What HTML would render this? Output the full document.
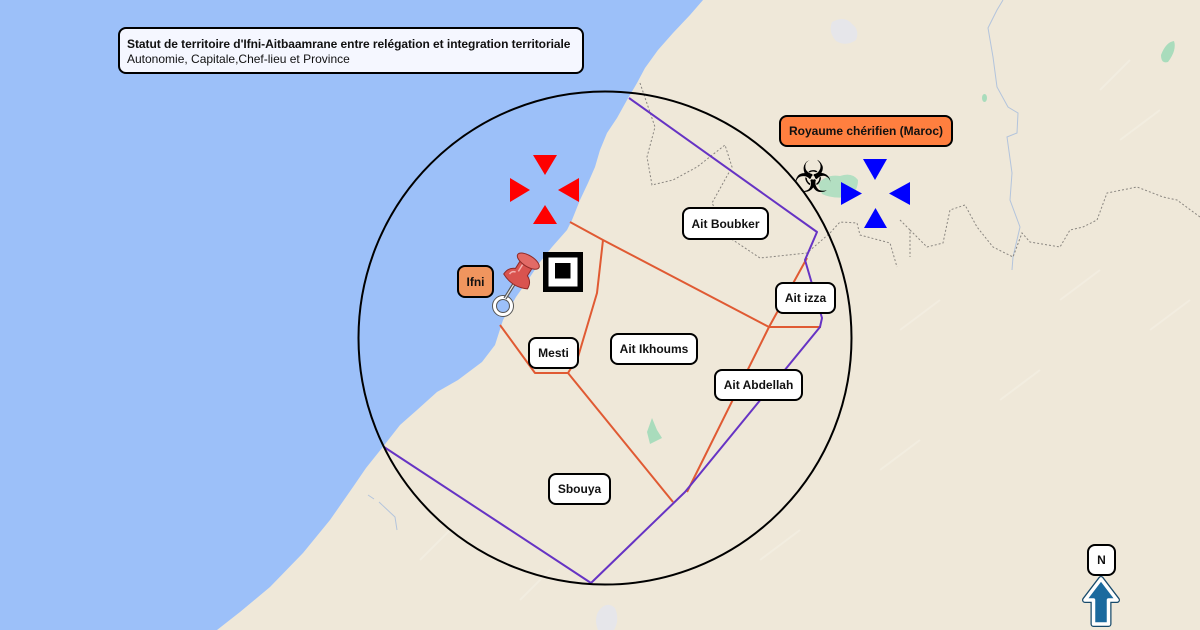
<!DOCTYPE html>
<html><head><meta charset="utf-8">
<style>
html,body{margin:0;padding:0;}
body{width:1200px;height:630px;overflow:hidden;position:relative;background:#efe8d9;font-family:"Liberation Sans",Arial,sans-serif;}
svg{position:absolute;left:0;top:0;}
.lb{position:absolute;box-sizing:border-box;border:2px solid #000;border-radius:8px;background:#fff;display:flex;align-items:center;justify-content:center;font-weight:bold;font-size:12px;color:#111;white-space:nowrap;}
</style></head><body>
<svg width="1200" height="630" viewBox="0 0 1200 630">
  <rect width="1200" height="630" fill="#efe8d9"/>
  <!-- terrain streaks -->
  <g stroke="#f4efe3" stroke-width="2" fill="none" opacity="0.7">
    <path d="M1100,90 L1130,60 M1120,140 L1160,110 M1060,300 L1100,270 M900,330 L940,300 M1000,400 L1040,370 M760,560 L800,530 M880,470 L920,440 M420,560 L450,530 M520,600 L550,570 M1150,330 L1190,300"/>
  </g>
  <!-- water -->
  <path d="M0,0 L703,0 L690,15 L673,33 L658,50 L645,68 L637,83 L627,100 L617,118 L607,133 L600,150 L595,167 L588,183 L580,200 L572,220 L567,230 L552,247 L540,262 L528,280 L516,297 L503,320 L495,345 L482,362 L458,380 L437,392 L417,410 L400,425 L382,448 L366,468 L353,487 L330,520 L303,553 L270,587 L240,612 L217,630 L0,630 Z" fill="#9cc0f9"/>
  <!-- light blobs -->
  <path d="M832,22 Q845,15 852,24 Q860,30 856,40 Q846,47 836,41 Q828,32 832,22Z" fill="#e6e6ea"/>
  <path d="M598,612 Q606,600 615,608 Q620,620 614,630 L598,630 Q594,620 598,612Z" fill="#e6e6ea"/>
  <!-- green patches -->
  <path d="M818,184 Q826,174 840,176 Q852,172 858,180 Q858,192 848,197 Q832,199 822,194 Z" fill="#b3dfc2"/>
  <path d="M647,432 L652,418 L657,430 L662,438 L650,444 Z" fill="#a9dcbc"/>
  <ellipse cx="984.5" cy="98" rx="2.5" ry="4" fill="#a9dcbc"/>
  <path d="M1161,55 Q1166,42 1174,41 Q1177,50 1168,62 Q1161,64 1161,55Z" fill="#a9dcbc"/>
  <!-- river -->
  <path d="M1003,0 L997,10 L988,28 L993,57 L997,87 L1008,107 L1018,113 L1017,133 L1007,137 L1012,173 L1010,200 L1020,227 L1013,257 L1012,270" fill="none" stroke="#b3c4dc" stroke-width="1"/>
  <path d="M368,495 L374,499 M379,502 L395,517 L397,530" fill="none" stroke="#b3c4dc" stroke-width="1"/>
  <!-- dotted borders -->
  <g fill="none" stroke="#8a8680" stroke-width="1" stroke-dasharray="2,2">
    <path d="M640,83 L655,127 L647,157 L652,185 L673,180 L697,167 L725,145 L732,167 L712,203 L730,238 L760,258 L807,253 L830,233 L840,222 L857,223 L860,235 L890,243 L897,267"/>
    <path d="M900,220 L910,230 L910,257 M910,230 L927,247 L943,243 L950,210 L965,205 L977,227 L993,247 L1013,257 L1022,233 L1030,242 L1060,247 L1070,230 L1083,227 L1097,220 L1107,193 L1137,187 L1163,197 L1177,200 L1200,217"/>
  </g>
  <!-- red boundaries -->
  <g fill="none" stroke="#e05a33" stroke-width="2" stroke-linejoin="round">
    <path d="M570,222 L603,240 L769,327 L821,327"/>
    <path d="M603,240 L597,293 L578,357 L568,373 L535,373 L500,325"/>
    <path d="M568,373 L673,502"/>
    <path d="M807,258 L769,327 L687,492"/>
  </g>
  <!-- purple -->
  <path d="M629,98 L817,232 L805,260 L822,318 L820,327 L685,492 L591,583 L384,447" fill="none" stroke="#6633c4" stroke-width="2" stroke-linejoin="round"/>
  <!-- circle -->
  <circle cx="605" cy="338" r="246.5" fill="none" stroke="#000" stroke-width="2"/>
  <!-- red arrows -->
  <g fill="#ff0000">
    <polygon points="533,155 557,155 545,175"/>
    <polygon points="510,178 510,202 530,190"/>
    <polygon points="579,178 579,202 558,190"/>
    <polygon points="533,224 557,224 545,205"/>
  </g>
  <!-- blue arrows -->
  <g fill="#0000ff">
    <polygon points="863,159 887,159 875,180"/>
    <polygon points="841,182 841,205 862,193.5"/>
    <polygon points="910,182 910,205 889,193.5"/>
    <polygon points="864,228 887,228 875.5,208"/>
  </g>
  <!-- target icon -->
  <rect x="543" y="252" width="40" height="40" fill="#000"/>
  <rect x="548.5" y="257.5" width="29" height="29" fill="#fff"/>
  <rect x="555" y="263" width="15.5" height="15.5" fill="#000"/>
  <!-- location circle -->
  <circle cx="503" cy="306" r="8.5" fill="none" stroke="#555" stroke-width="5"/>
  <circle cx="503" cy="306" r="8.5" fill="none" stroke="#fff" stroke-width="3"/>
  <!-- pushpin -->
  <g transform="translate(514,284) rotate(32)">
    <line x1="0" y1="-2" x2="0" y2="17" stroke="#555" stroke-width="3.5"/>
    <line x1="0" y1="-2" x2="0" y2="17" stroke="#e8e8e8" stroke-width="1.2"/>
    <path d="M-14,-3 Q-14,-11 -7,-14 L-7,-25 L7,-25 L7,-14 Q14,-11 14,-3 Q0,4 -14,-3 Z" fill="#d9534f" stroke="#8f2a28" stroke-width="1"/>
    <ellipse cx="0" cy="-27" rx="12.5" ry="5.5" fill="#e26a66" stroke="#8f2a28" stroke-width="1"/>
    <path d="M-3,-21 L-3,-13 M-9,-6 Q-9,-10 -5,-11" stroke="#f3b0ae" stroke-width="1.5" fill="none"/>
  </g>
  <!-- biohazard -->
  <text x="813" y="192" font-family="DejaVu Sans, sans-serif" font-size="44" text-anchor="middle" fill="#000">☣</text>
  <!-- north arrow -->
  <path d="M1101,579 L1117,600 L1108.5,600 L1108.5,624 L1093.5,624 L1093.5,600 L1085,600 Z" fill="#1b6a9e" stroke="#174a6b" stroke-width="6" stroke-linejoin="round"/>
  <path d="M1101,579 L1117,600 L1108.5,600 L1108.5,624 L1093.5,624 L1093.5,600 L1085,600 Z" fill="#1b6a9e" stroke="#fff" stroke-width="3.5" stroke-linejoin="round"/>
</svg>

<div class="lb" style="left:118px;top:27px;width:466px;height:47px;background:#f5f7ff;display:block;padding:8px 0 0 7px;font-weight:normal;justify-content:flex-start;">
  <div style="font-weight:bold;font-size:12px;line-height:15px;letter-spacing:-0.05px;">Statut de territoire d'Ifni-Aitbaamrane entre relégation et integration territoriale</div>
  <div style="font-size:12px;line-height:14px;">Autonomie, Capitale,Chef-lieu et Province</div>
</div>
<div class="lb" style="left:779px;top:115px;width:174px;height:32px;background:#ff7f3f;">Royaume chérifien (Maroc)</div>
<div class="lb" style="left:457px;top:265px;width:37px;height:33px;background:#f0955e;">Ifni</div>
<div class="lb" style="left:682px;top:207px;width:87px;height:33px;">Ait Boubker</div>
<div class="lb" style="left:775px;top:282px;width:61px;height:32px;">Ait izza</div>
<div class="lb" style="left:714px;top:369px;width:89px;height:32px;">Ait Abdellah</div>
<div class="lb" style="left:610px;top:333px;width:88px;height:32px;">Ait Ikhoums</div>
<div class="lb" style="left:528px;top:337px;width:51px;height:32px;">Mesti</div>
<div class="lb" style="left:548px;top:473px;width:63px;height:32px;">Sbouya</div>
<div class="lb" style="left:1087px;top:544px;width:29px;height:32px;">N</div>
</body></html>
